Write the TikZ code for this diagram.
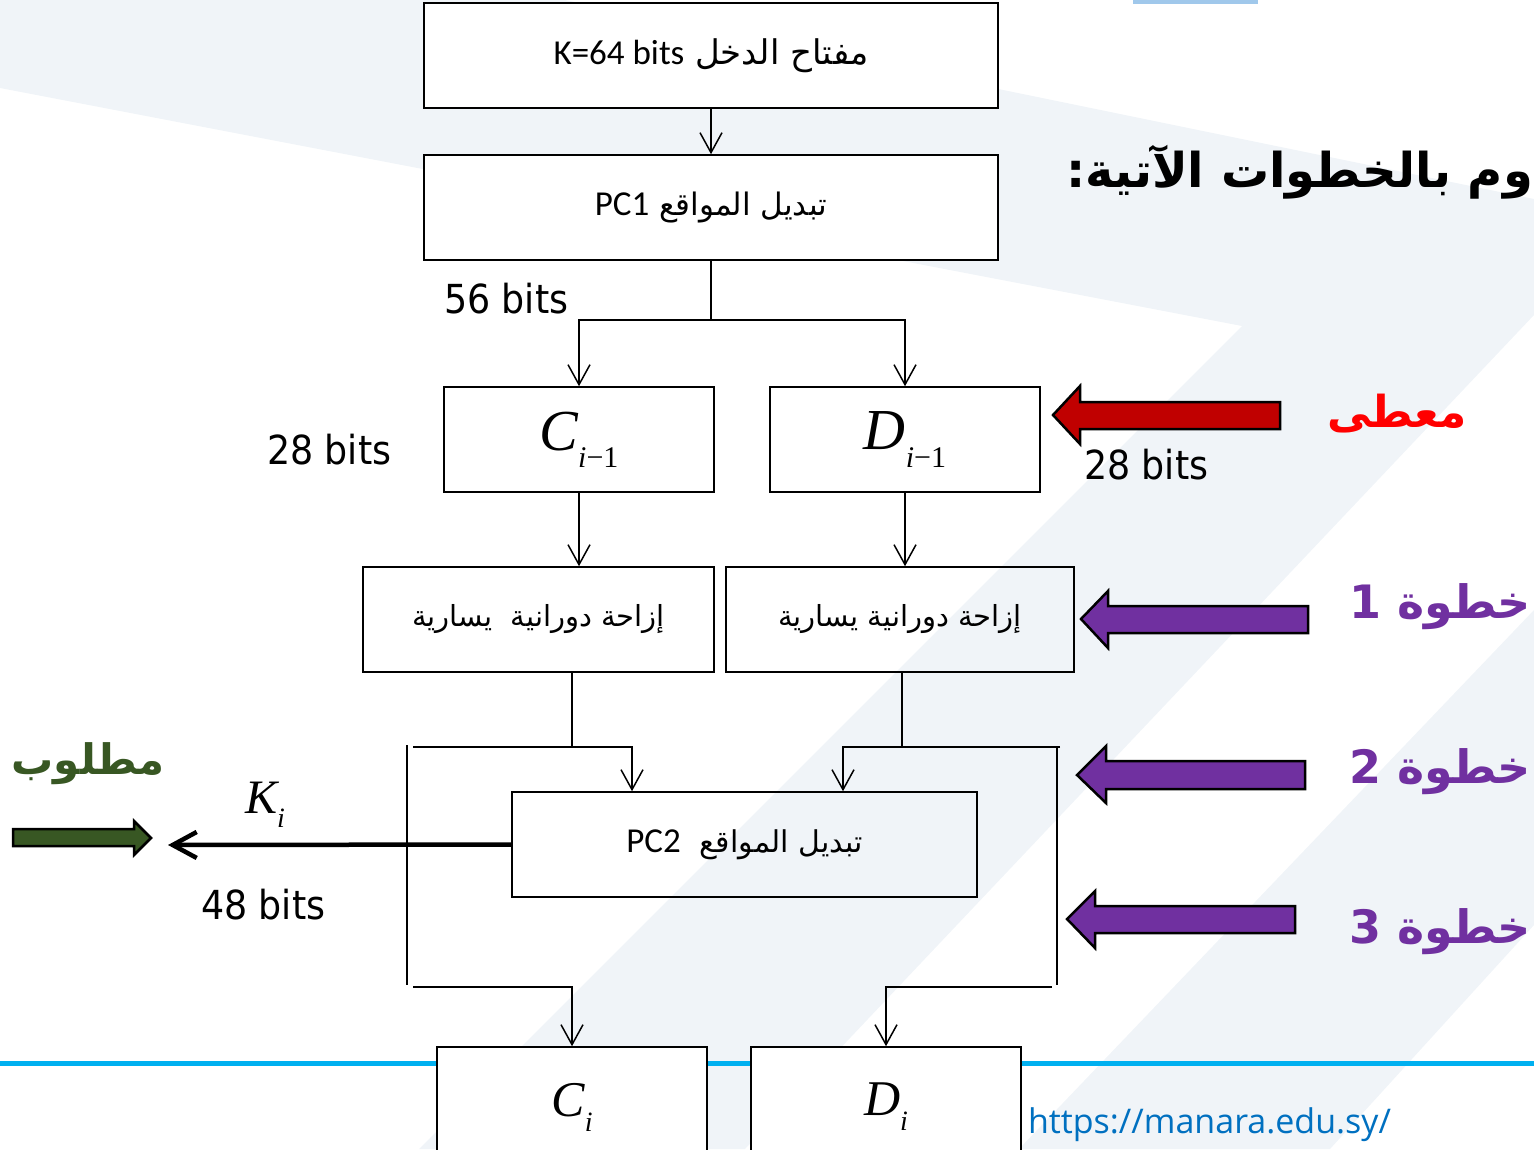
\documentclass[tikz,border=0pt]{standalone}
\usepackage{fontspec}
\usetikzlibrary{arrows.meta}
\TeXXeTstate=1
\newfontfamily\arabicfont[Script=Arabic]{DejaVu Sans}
\newfontfamily\latfont{Carlito}
\newfontfamily\bitsfont[FakeStretch=0.91]{DejaVu Sans}
\newfontfamily\serfont{Liberation Serif}
\newfontfamily\urlfont{Open Sans}
\newcommand\fs[1]{\fontsize{#1}{#1}\selectfont}
\newcommand\symb[4]{{\serfont\fs{#1}\itshape #2\raisebox{-0.3em}{\fs{#3}#4}}}
\definecolor{bgl}{RGB}{240,244,248}
\definecolor{lineblue}{RGB}{0,176,240}
\definecolor{topblue}{RGB}{160,200,235}
\definecolor{urlblue}{RGB}{0,112,192}
\definecolor{givenred}{RGB}{255,0,0}
\definecolor{arrred}{RGB}{192,0,0}
\definecolor{steppurple}{RGB}{112,48,160}
\definecolor{reqgreen}{RGB}{56,87,35}
\begin{document}
\begin{tikzpicture}[x=1pt,y=-1pt,
  box/.style={draw=black,line width=1.6pt,inner sep=0pt,align=center},
  ln/.style={line width=1.5pt,black},
  arr/.style={ln,-{Straight Barb[length=20pt,width=22pt]}},
  karr/.style={line width=4.5pt,black,-{Straight Barb[length=24pt,width=26pt]}},
  blockarr/.style={line width=2.5pt,draw=black,line join=miter},
  txt/.style={inner sep=0pt,outer sep=0pt}]
\useasboundingbox (0,0) rectangle (1534,1149);
\begin{scope}
\clip (0,0) rectangle (1534,1149);
% background
\fill[bgl] (0,0) -- (565,0) -- (1534,199) -- (1534,315) -- (745,1149) -- (419,1149) -- (1242,326) -- (0,88) -- cycle;
\fill[bgl] (1534,610) -- (1534,925) -- (1330,1149) -- (1019,1149) -- cycle;
\fill[lineblue] (0,1061) rectangle (1534,1066);
\fill[topblue] (1133,0) rectangle (1258,4);

% boxes
\node[box,fill=white,minimum width=574pt,minimum height=105pt] (k) at (711,55.5)
  {\arabicfont\fs{34}\beginR مفتاح الدخل \beginL{\latfont\fs{35}K=64 bits}\endL\endR};
\node[box,fill=white,minimum width=574pt,minimum height=105pt] (pc1) at (711,207.5)
  {\arabicfont\fs{31}\beginR تبديل المواقع \beginL{\latfont\fs{35}PC1}\endL\endR};
\node[box,minimum width=270pt,minimum height=105pt] (c) at (579,439.5)
  {\symb{58}{C}{30}{{\itshape i}{\upshape −1}}};
\node[box,minimum width=270pt,minimum height=105pt] (d) at (905,439.5)
  {\symb{58}{D}{30}{{\itshape i}{\upshape −1}}};
\node[box,minimum width=351pt,minimum height=105pt] (shl) at (538.5,619.5)
  {\arabicfont\fs{29}\beginR إزاحة دورانية\ \ يسارية\endR};
\node[box,minimum width=348pt,minimum height=105pt] (shr) at (900,619.5)
  {\arabicfont\fs{29}\beginR إزاحة دورانية يسارية\endR};
\node[box,minimum width=465pt,minimum height=105pt] (pc2) at (744.5,844.5)
  {\arabicfont\fs{30}\beginR تبديل المواقع\ \ \beginL{\latfont\fs{35}PC2}\endL\endR};
\node[box,fill=white,minimum width=270pt,minimum height=120pt] (ci) at (572,1107)
  {\symb{50}{C}{28}{i}};
\node[box,fill=white,minimum width=270pt,minimum height=120pt] (di) at (886,1107)
  {\symb{50}{D}{28}{i}};

% connectors
\draw[arr] (k.south) -- (pc1.north);
\coordinate (s1) at (711,320);
\draw[ln] (pc1.south) -- (s1);
\draw[arr] (s1) -| (c.north);
\draw[arr] (s1) -| (d.north);
\draw[arr] (c.south) -- (c.south |- shl.north);
\draw[arr] (d.south) -- (d.south |- shr.north);
\coordinate (jl) at (572,747);
\coordinate (jr) at (902,747);
\draw[ln] (jl |- shl.south) -- (jl);
\draw[ln] (jr |- shr.south) -- (jr);
\coordinate (tlA) at (413,747);
\coordinate (tlB) at (632,747);
\draw[arr] (tlA) -- (tlB) -- (tlB |- pc2.north);
\coordinate (trA) at (1060,747);
\coordinate (trB) at (843,747);
\draw[arr] (trA) -- (trB) -- (trB |- pc2.north);
\coordinate (vlA) at (407,745);
\coordinate (vlB) at (407,985);
\draw[ln] (vlA) -- (vlB);
\coordinate (vrA) at (1057,747);
\coordinate (vrB) at (1057,985);
\draw[ln] (vrA) -- (vrB);
\coordinate (blA) at (413,987);
\draw[arr] (blA) -| (ci.north);
\coordinate (brA) at (1052,987);
\draw[arr] (brA) -| (di.north);
\coordinate (kend) at (168,845);
\draw[karr] (pc2.west) -- (kend);

% block arrows
\filldraw[blockarr,fill=arrred] (1053,415) -- (1080,386) -- (1080,402) -- (1280,402) -- (1280,429) -- (1080,429) -- (1080,444) -- cycle;
\filldraw[blockarr,fill=steppurple] (1081,619) -- (1108,591) -- (1108,606) -- (1308,606) -- (1308,633) -- (1108,633) -- (1108,648) -- cycle;
\filldraw[blockarr,fill=steppurple] (1077,775) -- (1106,746) -- (1106,761) -- (1305,761) -- (1305,789) -- (1106,789) -- (1106,803) -- cycle;
\filldraw[blockarr,fill=steppurple] (1067,919) -- (1095,891) -- (1095,906) -- (1295,906) -- (1295,933) -- (1095,933) -- (1095,948) -- cycle;
\filldraw[blockarr,fill=reqgreen] (13,829) -- (134,829) -- (134,821) -- (151,838) -- (134,855) -- (134,846) -- (13,846) -- cycle;

% labels
\node[txt,anchor=base west] (b56) at (444,313) {\bitsfont\fs{40}56 bits};
\node[txt,anchor=base west] (b28l) at (267,464) {\bitsfont\fs{40}28 bits};
\node[txt,anchor=base west] (b28r) at (1084,479) {\bitsfont\fs{40}28 bits};
\node[txt,anchor=base west] (b48) at (201,919) {\bitsfont\fs{40}48 bits};
\node[txt,anchor=base west] (ki) at (245,813) {\symb{48}{K}{28}{i}};
\node[txt] (given) at (1397,414) {\arabicfont\bfseries\fs{44}\color{givenred}\beginR معطى\endR};
\node[txt] (req) at (88,764) {\arabicfont\bfseries\fs{42}\color{reqgreen}\beginR مطلوب\endR};
\node[txt,anchor=east] (st1) at (1531,607) {\arabicfont\bfseries\fs{46}\color{steppurple}\beginR خطوة 1\endR};
\node[txt,anchor=east] (st2) at (1531,772) {\arabicfont\bfseries\fs{46}\color{steppurple}\beginR خطوة 2\endR};
\node[txt,anchor=east] (st3) at (1531,932) {\arabicfont\bfseries\fs{46}\color{steppurple}\beginR خطوة 3\endR};
\node[txt,anchor=east] (title) at (1533,172) {\arabicfont\bfseries\fs{48}\beginR وم بالخطوات الآتية:\endR};
\node[txt,anchor=base west] (url) at (1028,1133) {\urlfont\fs{34}\color{urlblue}https://manara.edu.sy/};
\end{scope}
\end{tikzpicture}
\end{document}
